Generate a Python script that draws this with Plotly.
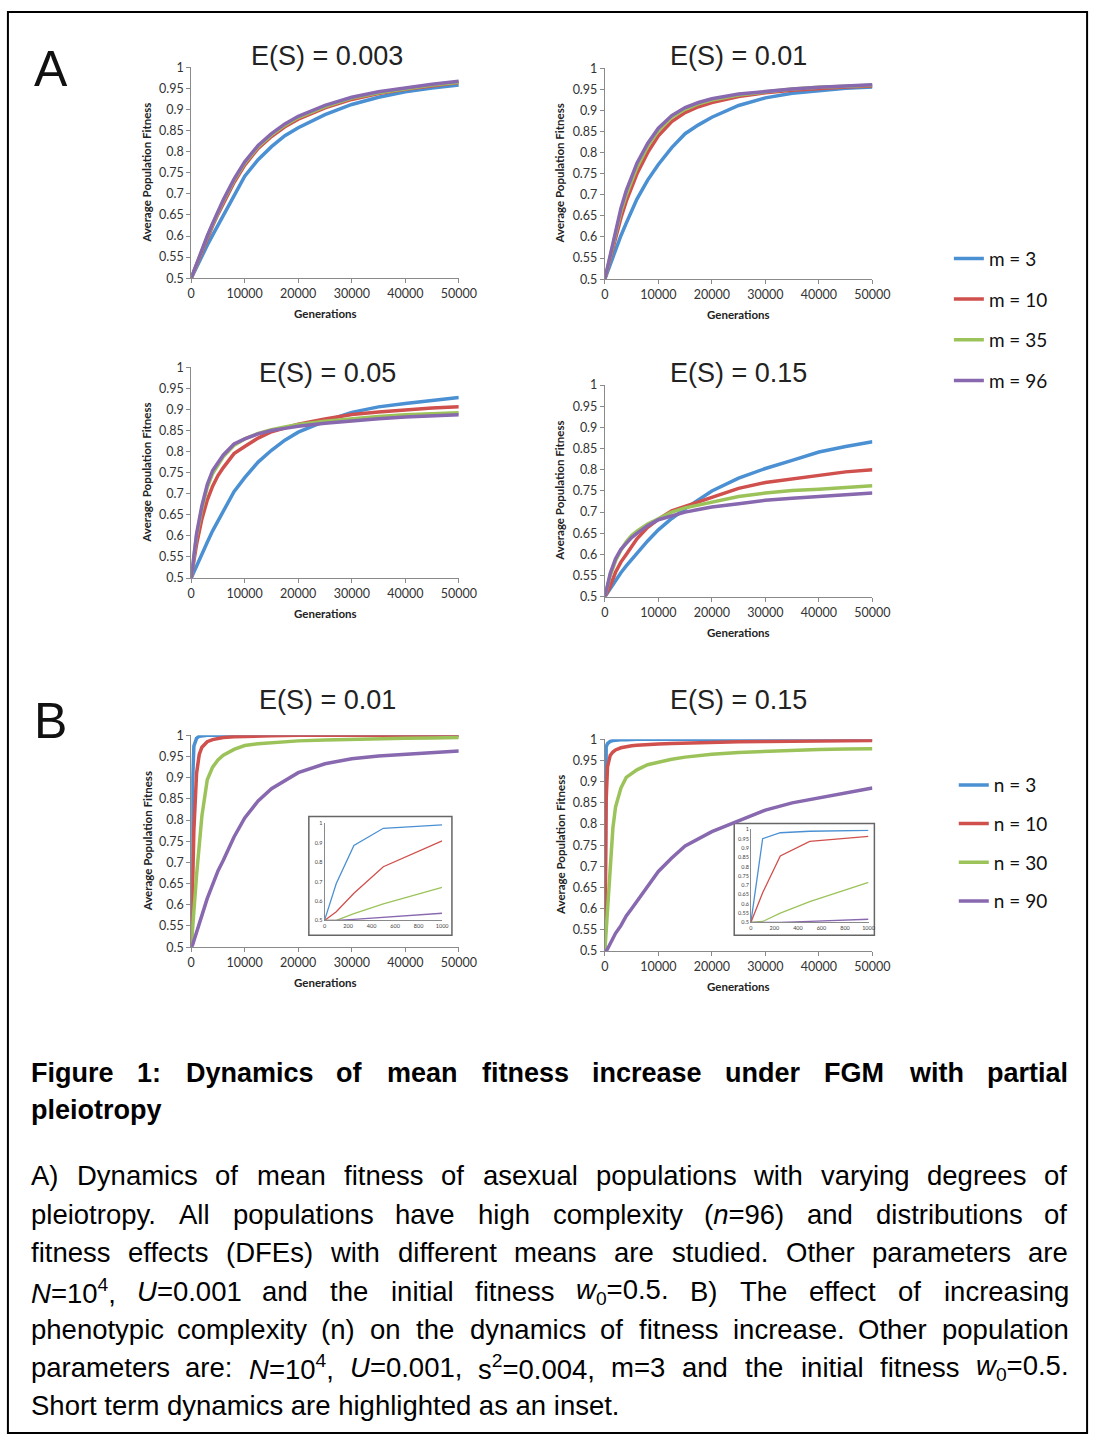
import plotly.graph_objects as go

# ---------------- data ----------------
GEN_A = [0, 1000, 2000, 3000, 4000, 5000, 6000, 8000, 10000, 12500, 15000, 17500,
         20000, 25000, 30000, 35000, 40000, 45000, 50000]
GEN_B = [0, 250, 500, 1000, 1500, 2000, 3000, 4000, 5000, 6000, 8000, 10000, 12500,
         15000, 20000, 25000, 30000, 35000, 40000, 45000, 50000]
GEN_INSET = [0, 100, 250, 500, 1000]

M_LABELS = ["m = 3", "m = 10", "m = 35", "m = 96"]
N_LABELS = ["n = 3", "n = 10", "n = 30", "n = 90"]
A_TITLES = ["E(S) = 0.003", "E(S) = 0.01", "E(S) = 0.05", "E(S) = 0.15"]
B_TITLES = ["E(S) = 0.01", "E(S) = 0.15"]

X_TICKS = [0, 10000, 20000, 30000, 40000, 50000]
X_TICK_TEXT = ["0", "10000", "20000", "30000", "40000", "50000"]
Y_TICKS = [0.5, 0.55, 0.6, 0.65, 0.7, 0.75, 0.8, 0.85, 0.9, 0.95, 1.0]
Y_TICK_TEXT = ["0.5", "0.55", "0.6", "0.65", "0.7", "0.75", "0.8", "0.85", "0.9", "0.95", "1"]
INSET_X_TICKS = [0, 200, 400, 600, 800, 1000]
INSET_X_TEXT = ["0", "200", "400", "600", "800", "1000"]
INSET1_Y_TICKS = [0.5, 0.6, 0.7, 0.8, 0.9, 1.0]
INSET1_Y_TEXT = ["0.5", "0.6", "0.7", "0.8", "0.9", "1"]
INSET2_Y_TICKS = Y_TICKS
INSET2_Y_TEXT = Y_TICK_TEXT

# Panel A, E(S) = 0.003
A003_M3 = [0.5, 0.527, 0.553, 0.578, 0.602, 0.625, 0.648, 0.697, 0.742, 0.781, 0.812, 0.838,
           0.857, 0.888, 0.912, 0.929, 0.942, 0.951, 0.958]
A003_M10 = [0.5, 0.532, 0.563, 0.595, 0.624, 0.652, 0.678, 0.727, 0.768, 0.808, 0.836, 0.859,
            0.877, 0.904, 0.924, 0.938, 0.948, 0.956, 0.964]
A003_M35 = [0.5, 0.534, 0.566, 0.598, 0.628, 0.657, 0.683, 0.732, 0.773, 0.812, 0.840, 0.863,
            0.881, 0.907, 0.927, 0.940, 0.950, 0.958, 0.965]
A003_M96 = [0.5, 0.535, 0.568, 0.600, 0.630, 0.660, 0.686, 0.735, 0.776, 0.815, 0.843, 0.866,
            0.884, 0.910, 0.929, 0.942, 0.952, 0.960, 0.967]

# Panel A, E(S) = 0.01
A01_M3 = [0.5, 0.535, 0.570, 0.603, 0.633, 0.662, 0.690, 0.735, 0.772, 0.812, 0.845, 0.866,
          0.884, 0.912, 0.930, 0.941, 0.948, 0.953, 0.956]
A01_M10 = [0.5, 0.550, 0.600, 0.645, 0.685, 0.720, 0.750, 0.800, 0.840, 0.874, 0.895, 0.909,
           0.919, 0.933, 0.942, 0.948, 0.953, 0.956, 0.958]
A01_M35 = [0.5, 0.555, 0.610, 0.660, 0.700, 0.735, 0.765, 0.815, 0.852, 0.884, 0.903, 0.916,
           0.925, 0.937, 0.945, 0.951, 0.955, 0.958, 0.960]
A01_M96 = [0.5, 0.558, 0.615, 0.668, 0.710, 0.745, 0.775, 0.822, 0.858, 0.888, 0.907, 0.919,
           0.928, 0.939, 0.946, 0.951, 0.955, 0.958, 0.961]

# Panel A, E(S) = 0.05
A05_M3 = [0.5, 0.530, 0.560, 0.585, 0.612, 0.636, 0.660, 0.705, 0.738, 0.775, 0.803, 0.827,
          0.846, 0.872, 0.893, 0.906, 0.914, 0.922, 0.928]
A05_M10 = [0.5, 0.580, 0.640, 0.685, 0.718, 0.743, 0.762, 0.795, 0.812, 0.832, 0.847, 0.857,
           0.865, 0.877, 0.888, 0.894, 0.899, 0.903, 0.906]
A05_M35 = [0.5, 0.600, 0.665, 0.715, 0.748, 0.770, 0.788, 0.815, 0.830, 0.843, 0.852, 0.858,
           0.864, 0.872, 0.878, 0.883, 0.887, 0.890, 0.892]
A05_M96 = [0.5, 0.605, 0.672, 0.722, 0.755, 0.775, 0.792, 0.818, 0.830, 0.842, 0.850, 0.855,
           0.860, 0.867, 0.873, 0.878, 0.882, 0.885, 0.887]

# Panel A, E(S) = 0.15
A15_M3 = [0.5, 0.520, 0.540, 0.557, 0.573, 0.588, 0.602, 0.632, 0.658, 0.685, 0.708, 0.730,
          0.750, 0.780, 0.803, 0.822, 0.842, 0.855, 0.866]
A15_M10 = [0.5, 0.525, 0.558, 0.582, 0.600, 0.620, 0.637, 0.664, 0.683, 0.703, 0.714, 0.724,
           0.736, 0.756, 0.770, 0.779, 0.788, 0.795, 0.800]
A15_M35 = [0.5, 0.550, 0.585, 0.610, 0.630, 0.645, 0.655, 0.672, 0.684, 0.700, 0.710, 0.717,
           0.724, 0.737, 0.745, 0.751, 0.754, 0.758, 0.762]
A15_M96 = [0.5, 0.555, 0.590, 0.612, 0.626, 0.640, 0.650, 0.668, 0.682, 0.692, 0.700, 0.706,
           0.712, 0.720, 0.728, 0.733, 0.737, 0.741, 0.745]

# Panel B, E(S) = 0.01
B01_N3 = [0.5, 0.887, 0.975, 0.993, 0.998, 0.999, 1.0, 1.0, 1.0, 1.0, 1.0, 1.0, 1.0,
          1.0, 1.0, 1.0, 1.0, 1.0, 1.0, 1.0, 1.0]
B01_N10 = [0.5, 0.640, 0.777, 0.910, 0.955, 0.972, 0.985, 0.990, 0.993, 0.995, 0.997, 0.998,
           0.999, 0.999, 1.0, 1.0, 1.0, 1.0, 1.0, 1.0, 1.0]
B01_N30 = [0.5, 0.535, 0.585, 0.670, 0.750, 0.810, 0.895, 0.925, 0.942, 0.953, 0.967, 0.976,
           0.980, 0.983, 0.987, 0.989, 0.991, 0.992, 0.993, 0.994, 0.995]
B01_N90 = [0.5, 0.505, 0.515, 0.537, 0.555, 0.575, 0.615, 0.650, 0.680, 0.705, 0.760, 0.805,
           0.845, 0.874, 0.912, 0.933, 0.945, 0.951, 0.955, 0.959, 0.963]

# Panel B, E(S) = 0.15
B15_N3 = [0.5, 0.982, 0.990, 0.995, 0.997, 0.998, 0.999, 0.999, 1.0, 1.0, 1.0, 1.0, 1.0,
          1.0, 1.0, 1.0, 1.0, 1.0, 1.0, 1.0, 1.0]
B15_N10 = [0.5, 0.857, 0.935, 0.962, 0.970, 0.975, 0.980, 0.983, 0.985, 0.986, 0.988, 0.989,
           0.990, 0.991, 0.993, 0.994, 0.995, 0.995, 0.996, 0.996, 0.997]
B15_N30 = [0.5, 0.550, 0.612, 0.715, 0.790, 0.840, 0.885, 0.910, 0.920, 0.928, 0.940, 0.946,
           0.953, 0.958, 0.965, 0.969, 0.972, 0.974, 0.976, 0.977, 0.978]
B15_N90 = [0.5, 0.500, 0.505, 0.517, 0.530, 0.542, 0.560, 0.583, 0.600, 0.617, 0.653, 0.688,
           0.720, 0.748, 0.782, 0.808, 0.833, 0.850, 0.862, 0.873, 0.885]

# Insets (short-term, first 1000 generations)
IN01_N3 = [0.5, 0.690, 0.887, 0.975, 0.993]
IN01_N10 = [0.5, 0.545, 0.640, 0.777, 0.910]
IN01_N30 = [0.5, 0.500, 0.535, 0.585, 0.670]
IN01_N90 = [0.5, 0.500, 0.505, 0.515, 0.537]
IN15_N3 = [0.5, 0.950, 0.982, 0.990, 0.995]
IN15_N10 = [0.5, 0.660, 0.857, 0.935, 0.962]
IN15_N30 = [0.5, 0.505, 0.550, 0.612, 0.715]
IN15_N90 = [0.5, 0.500, 0.500, 0.505, 0.517]

CAPTION_BOLD = [
    "Figure 1: Dynamics of mean fitness increase under FGM with partial",
    "pleiotropy",
]
CAPTION_BODY = [
    "A) Dynamics of mean fitness of asexual populations with varying degrees of",
    "pleiotropy. All populations have high complexity (<i>n</i>=96) and distributions of",
    "fitness effects (DFEs) with different means are studied. Other parameters are",
    "<i>N</i>=10<sup>4</sup>, <i>U</i>=0.001 and the initial fitness <i>w</i><sub>0</sub>=0.5. B) The effect of increasing",
    "phenotypic complexity (n) on the dynamics of fitness increase. Other population",
    "parameters are: <i>N</i>=10<sup>4</sup>, <i>U</i>=0.001, s<sup>2</sup>=0.004, m=3 and the initial fitness <i>w</i><sub>0</sub>=0.5.",
    "Short term dynamics are highlighted as an inset.",
]

# ---------------- styling / layout ----------------
W, H = 1109, 1444
COLORS = ["#4A90D2", "#D0504D", "#9BC35A", "#8868AE"]
TICK_FONT = dict(family="Lato, Open Sans, sans-serif", size=12.5, color="#333333")
AX_COLOR = "#8a8a8a"


def fx(x):
    return x / W


def fy(y):
    return 1 - y / H


# pixel boxes: (x_left, x_right, y_top, y_bottom)
PANELS = [
    (191, 464, 60, 273),
    (613, 886, 61, 274),
    (191, 464, 363, 576),
    (613, 886, 381, 595),
    (191, 464, 735, 949),
    (613, 886, 739, 953),
]
INSETS = [
    (327, 447, 824, 922),
    (762, 882, 830, 924),
]

fig = go.Figure()

A_SERIES = [
    [A003_M3, A003_M10, A003_M35, A003_M96],
    [A01_M3, A01_M10, A01_M35, A01_M96],
    [A05_M3, A05_M10, A05_M35, A05_M96],
    [A15_M3, A15_M10, A15_M35, A15_M96],
]
B_SERIES = [
    [B01_N3, B01_N10, B01_N30, B01_N90],
    [B15_N3, B15_N10, B15_N30, B15_N90],
]
INSET_SERIES = [
    [IN01_N3, IN01_N10, IN01_N30, IN01_N90],
    [IN15_N3, IN15_N10, IN15_N30, IN15_N90],
]

for p, series in enumerate(A_SERIES):
    ax = p + 1
    for k, vals in enumerate(series):
        fig.add_trace(go.Scatter(
            x=GEN_A, y=vals, mode="lines", name=M_LABELS[k],
            line=dict(color=COLORS[k], width=3.5),
            xaxis=f"x{ax}", yaxis=f"y{ax}",
            showlegend=(p == 0), legend="legend", legendgroup=f"m{k}",
            hoverinfo="x+y+name"))

for p, series in enumerate(B_SERIES):
    ax = p + 5
    for k, vals in enumerate(series):
        fig.add_trace(go.Scatter(
            x=GEN_B, y=vals, mode="lines", name=N_LABELS[k],
            line=dict(color=COLORS[k], width=3.5),
            xaxis=f"x{ax}", yaxis=f"y{ax}",
            showlegend=(p == 0), legend="legend2", legendgroup=f"n{k}",
            hoverinfo="x+y+name"))

for p, series in enumerate(INSET_SERIES):
    ax = p + 7
    for k, vals in enumerate(series):
        fig.add_trace(go.Scatter(
            x=GEN_INSET, y=vals, mode="lines", name=N_LABELS[k],
            line=dict(color=COLORS[k], width=1.3),
            xaxis=f"x{ax}", yaxis=f"y{ax}", showlegend=False,
            hoverinfo="x+y+name"))

layout = dict(
    width=W, height=H,
    margin=dict(l=0, r=0, t=0, b=0),
    paper_bgcolor="white", plot_bgcolor="rgba(0,0,0,0)",
    font=dict(family="Lato, sans-serif", color="#222"),
)


def axname(kind, i):
    return f"{kind}axis" if i == 1 else f"{kind}axis{i}"


for i, (x0, x1, y0, y1) in enumerate(PANELS, start=1):
    layout[axname("x", i)] = dict(
        domain=[fx(x0), fx(x1)], anchor=f"y{i}", range=[0, 50000],
        tickvals=X_TICKS, ticktext=X_TICK_TEXT, tickfont=TICK_FONT,
        showline=True, linecolor=AX_COLOR, linewidth=1, ticks="outside",
        ticklen=4, tickcolor=AX_COLOR, showgrid=False, zeroline=False)
    layout[axname("y", i)] = dict(
        domain=[fy(y1), fy(y0)], anchor=f"x{i}", range=[0.5, 1.0],
        tickvals=Y_TICKS, ticktext=Y_TICK_TEXT, tickfont=TICK_FONT,
        showline=True, linecolor=AX_COLOR, linewidth=1, ticks="outside",
        ticklen=4, tickcolor=AX_COLOR, showgrid=False, zeroline=False)

INSET_FONT = dict(family="Lato, sans-serif", size=5.5, color="#444")
for j, (x0, x1, y0, y1) in enumerate(INSETS):
    i = 7 + j
    yt = INSET1_Y_TICKS if j == 0 else INSET2_Y_TICKS
    ytx = INSET1_Y_TEXT if j == 0 else INSET2_Y_TEXT
    layout[axname("x", i)] = dict(
        domain=[fx(x0), fx(x1)], anchor=f"y{i}", range=[0, 1000],
        tickvals=INSET_X_TICKS, ticktext=INSET_X_TEXT, tickfont=INSET_FONT,
        showline=True, linecolor=AX_COLOR, linewidth=0.8, ticks="",
        showgrid=False, zeroline=False)
    layout[axname("y", i)] = dict(
        domain=[fy(y1), fy(y0)], anchor=f"x{i}", range=[0.5, 1.0],
        tickvals=yt, ticktext=ytx, tickfont=INSET_FONT,
        showline=True, linecolor=AX_COLOR, linewidth=0.8, ticks="",
        showgrid=False, zeroline=False)

LEG_FONT = dict(family="Lato, sans-serif", size=19, color="#111")
layout["legend"] = dict(x=fx(964), y=fy(234), xanchor="left", yanchor="top",
                        font=LEG_FONT, tracegroupgap=13, traceorder="grouped",
                        bgcolor="rgba(0,0,0,0)", itemwidth=30)
layout["legend2"] = dict(x=fx(969), y=fy(766), xanchor="left", yanchor="top",
                         font=LEG_FONT, tracegroupgap=11, traceorder="grouped",
                         bgcolor="rgba(0,0,0,0)", itemwidth=30)

annotations = []
shapes = []

# outer frame
shapes.append(dict(type="rect", xref="paper", yref="paper",
                   x0=fx(4), x1=fx(1105), y0=fy(1440), y1=fy(4),
                   line=dict(color="black", width=2), layer="above"))
# inset boxes
for (bx0, bx1, by0, by1) in [(311, 457, 817, 937), (745, 888, 824, 937)]:
    shapes.append(dict(type="rect", xref="paper", yref="paper",
                       x0=fx(bx0), x1=fx(bx1), y0=fy(by1), y1=fy(by0),
                       fillcolor="white", line=dict(color="#666", width=1.5),
                       layer="below"))

TITLE_FONT = dict(family="Liberation Sans, Arial, sans-serif", size=27, color="#222")
title_pos = [(330, 48), (749, 48), (330, 369), (749, 369), (330, 699), (749, 699)]
titles = A_TITLES + B_TITLES
for (tx, ty), t in zip(title_pos, titles):
    annotations.append(dict(text=t, x=fx(tx), y=fy(ty), xref="paper", yref="paper",
                            showarrow=False, xanchor="center", yanchor="middle",
                            font=TITLE_FONT))

AXT_FONT = dict(family="Lato, sans-serif", size=11.5, color="#222", weight="bold")
for i, (x0, x1, y0, y1) in enumerate(PANELS):
    ytx = 146 if x0 < 500 else 567
    annotations.append(dict(text="Average Population Fitness", x=fx(ytx), y=fy((y0 + y1) / 2),
                            xref="paper", yref="paper", showarrow=False, textangle=-90,
                            xanchor="center", yanchor="middle", font=AXT_FONT))
    annotations.append(dict(text="Generations", x=fx((x0 + x1) / 2 - 0), y=fy(y1 + 36),
                            xref="paper", yref="paper", showarrow=False,
                            xanchor="center", yanchor="middle", font=AXT_FONT))

BIG_FONT = dict(family="Liberation Sans, Arial, sans-serif", size=50, color="#111")
annotations.append(dict(text="A", x=fx(48), y=fy(62), xref="paper", yref="paper",
                        showarrow=False, xanchor="center", yanchor="middle", font=BIG_FONT))
annotations.append(dict(text="B", x=fx(47), y=fy(720), xref="paper", yref="paper",
                        showarrow=False, xanchor="center", yanchor="middle", font=BIG_FONT))

# ---------------- justified caption ----------------
REG_W = {' ': 278, '(': 333, ')': 333, ',': 278, '-': 333, '.': 278, ':': 278, '=': 584,
         'A': 667, 'B': 667, 'C': 722, 'D': 722, 'E': 667, 'F': 611, 'G': 778, 'H': 722,
         'I': 278, 'J': 500, 'K': 667, 'L': 556, 'M': 833, 'N': 722, 'O': 778, 'P': 667,
         'Q': 778, 'R': 722, 'S': 667, 'T': 611, 'U': 722, 'V': 667, 'W': 944, 'X': 667,
         'Y': 667, 'Z': 611,
         'a': 556, 'b': 556, 'c': 500, 'd': 556, 'e': 556, 'f': 278, 'g': 556, 'h': 556,
         'i': 222, 'j': 222, 'k': 500, 'l': 222, 'm': 833, 'n': 556, 'o': 556, 'p': 556,
         'q': 556, 'r': 333, 's': 500, 't': 278, 'u': 556, 'v': 500, 'w': 722, 'x': 500,
         'y': 500, 'z': 500}
BOLD_W = {' ': 278, '(': 333, ')': 333, ',': 278, '.': 278, ':': 333,
          'A': 722, 'B': 722, 'D': 722, 'E': 667, 'F': 611, 'G': 778, 'M': 833, 'P': 667,
          'a': 556, 'b': 611, 'c': 556, 'd': 611, 'e': 556, 'f': 333, 'g': 611, 'h': 611,
          'i': 278, 'j': 278, 'k': 556, 'l': 278, 'm': 889, 'n': 611, 'o': 611, 'p': 611,
          'q': 611, 'r': 389, 's': 556, 't': 333, 'u': 611, 'v': 556, 'w': 778, 'x': 556,
          'y': 556, 'z': 500}


def text_width(s, size, bold):
    table = BOLD_W if bold else REG_W
    w, scale, i = 0.0, 1.0, 0
    while i < len(s):
        if s[i] == '<':
            j = s.index('>', i)
            tag = s[i + 1:j].lower()
            if tag in ("sup", "sub"):
                scale = 0.7
            elif tag in ("/sup", "/sub"):
                scale = 1.0
            i = j + 1
            continue
        w += table.get(s[i], 556) * scale
        i += 1
    return w * size / 1000.0


LEFT, RIGHT = 26, 1083


def place_line(text, ycen, size, bold, justify):
    font = dict(family="Liberation Sans, Arial, sans-serif", size=size, color="black")
    if bold:
        font["weight"] = "bold"
    if not justify:
        annotations.append(dict(text=text, x=fx(LEFT - 1), y=fy(ycen), xref="paper",
                                yref="paper", showarrow=False, xanchor="left",
                                yanchor="middle", font=font))
        return
    words = text.split(" ")
    widths = [text_width(w, size, bold) for w in words]
    gap = (RIGHT - LEFT - sum(widths)) / (len(words) - 1)
    x = LEFT
    for w, wd in zip(words, widths):
        annotations.append(dict(text=w, x=fx(x - 1), y=fy(ycen), xref="paper", yref="paper",
                                showarrow=False, xanchor="left", yanchor="middle",
                                font=font))
        x += wd + gap


bold_y = [1076, 1114]
for k, line in enumerate(CAPTION_BOLD):
    place_line(line, bold_y[k], 27, True, k < len(CAPTION_BOLD) - 1)
body_y = [1180, 1219, 1258, 1297, 1335, 1374, 1412]
for k, line in enumerate(CAPTION_BODY):
    place_line(line, body_y[k], 27.5, False, k < len(CAPTION_BODY) - 1)

layout["annotations"] = annotations
layout["shapes"] = shapes
fig.update_layout(**layout)

PAGE_FIX = (
    "document.documentElement.style.margin='0';"
    "document.documentElement.style.padding='0';"
    "document.documentElement.style.overflow='hidden';"
    "document.body.style.margin='0';"
    "document.body.style.padding='0';"
    "document.body.style.overflow='hidden';"
    "var gd=document.getElementById('{plot_id}');"
    "gd.style.position='fixed';gd.style.left='0px';gd.style.top='0px';"
)

fig.write_html("out.html", config={"displayModeBar": False}, post_script=PAGE_FIX)
